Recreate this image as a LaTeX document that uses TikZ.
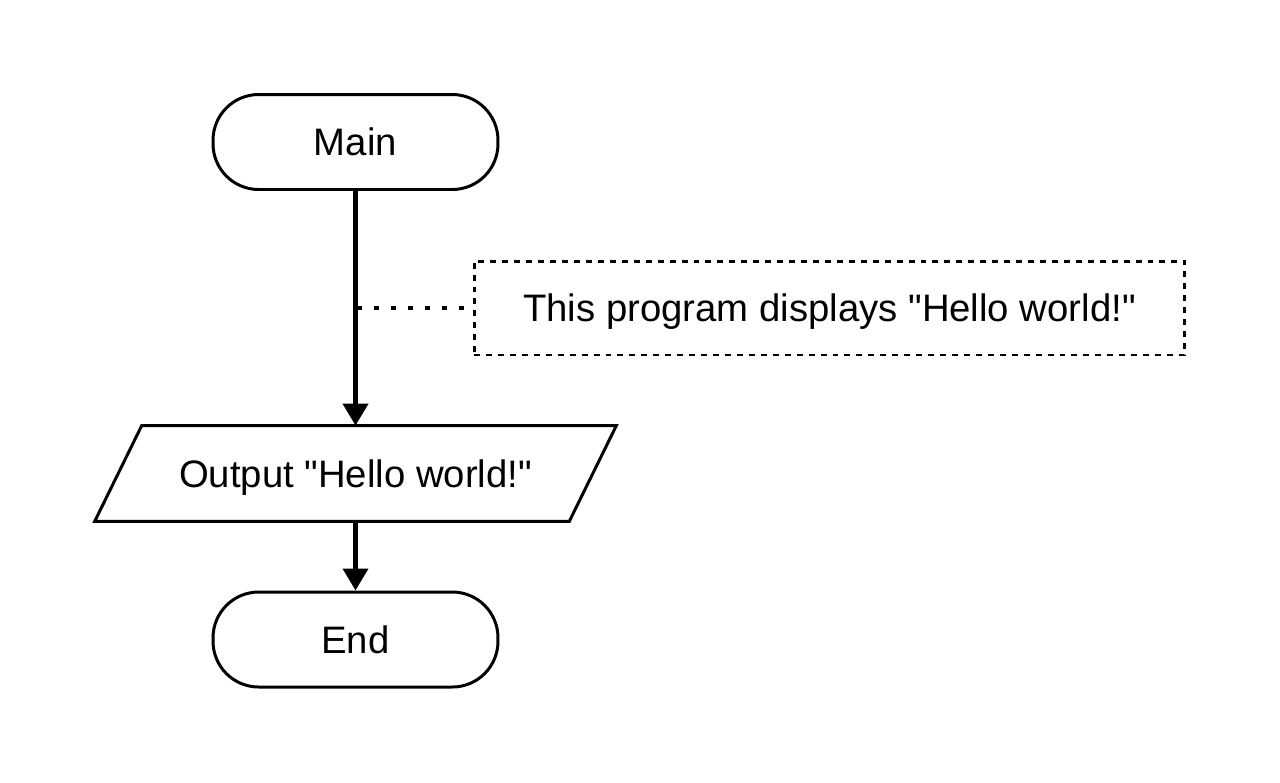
\documentclass[tikz,border=0pt]{standalone}
\usepackage{fontspec}
\setmainfont{Liberation Sans}[Ligatures=TeXOff]
\usetikzlibrary{arrows.meta,calc,positioning}
\tikzset{pin/.style={line width=2.8pt, -{Triangle[length=12.5pt, width=14pt]}},
  edge/.style={line width=1.7pt},
  term/.style={draw, edge, rounded corners=26pt, minimum width=5.7cm, minimum height=1.9cm, text depth=0pt},
  io/.style={minimum width=9.48cm, minimum height=1.9cm, text depth=0pt},
  note/.style={draw, edge, dash pattern=on 3.4pt off 3.4pt, text depth=0pt,
    minimum width=14.22cm, minimum height=1.88cm}}

\begin{document}
\begin{tikzpicture}[x=0.02cm, y=-0.02cm, font=\fontsize{21.8}{26}\selectfont]
  \useasboundingbox (0,0) rectangle (1280,782);
  % flow
  \node[term] (main) at (355.5,142) {Main};
  \node[io] (out) at (355.5,473.5) {Output "Hello world!"};
  \draw[edge] ($(out.north west)+(23.5,0)$) -- ($(out.north east)+(23.5,0)$)
    -- ($(out.south east)+(-23.5,0)$) -- ($(out.south west)+(-23.5,0)$) -- cycle;
  \node[term] (end) at (355.5,639.5) {End};
  \draw[pin] (main.south) -- (out.north);
  \draw[pin] (out.south) -- (end.north);
  % comment
  \node[note] (cmt) at (829.5,308) {This program displays "Hello world!"};
  \coordinate (tap) at (main.south |- cmt.west);
  \draw[line width=2.8pt, dash pattern=on 2.8pt off 6.8pt] ($(tap)+(2,0)$) -- ($(cmt.west)+(-4,0)$);
\end{tikzpicture}
\end{document}
